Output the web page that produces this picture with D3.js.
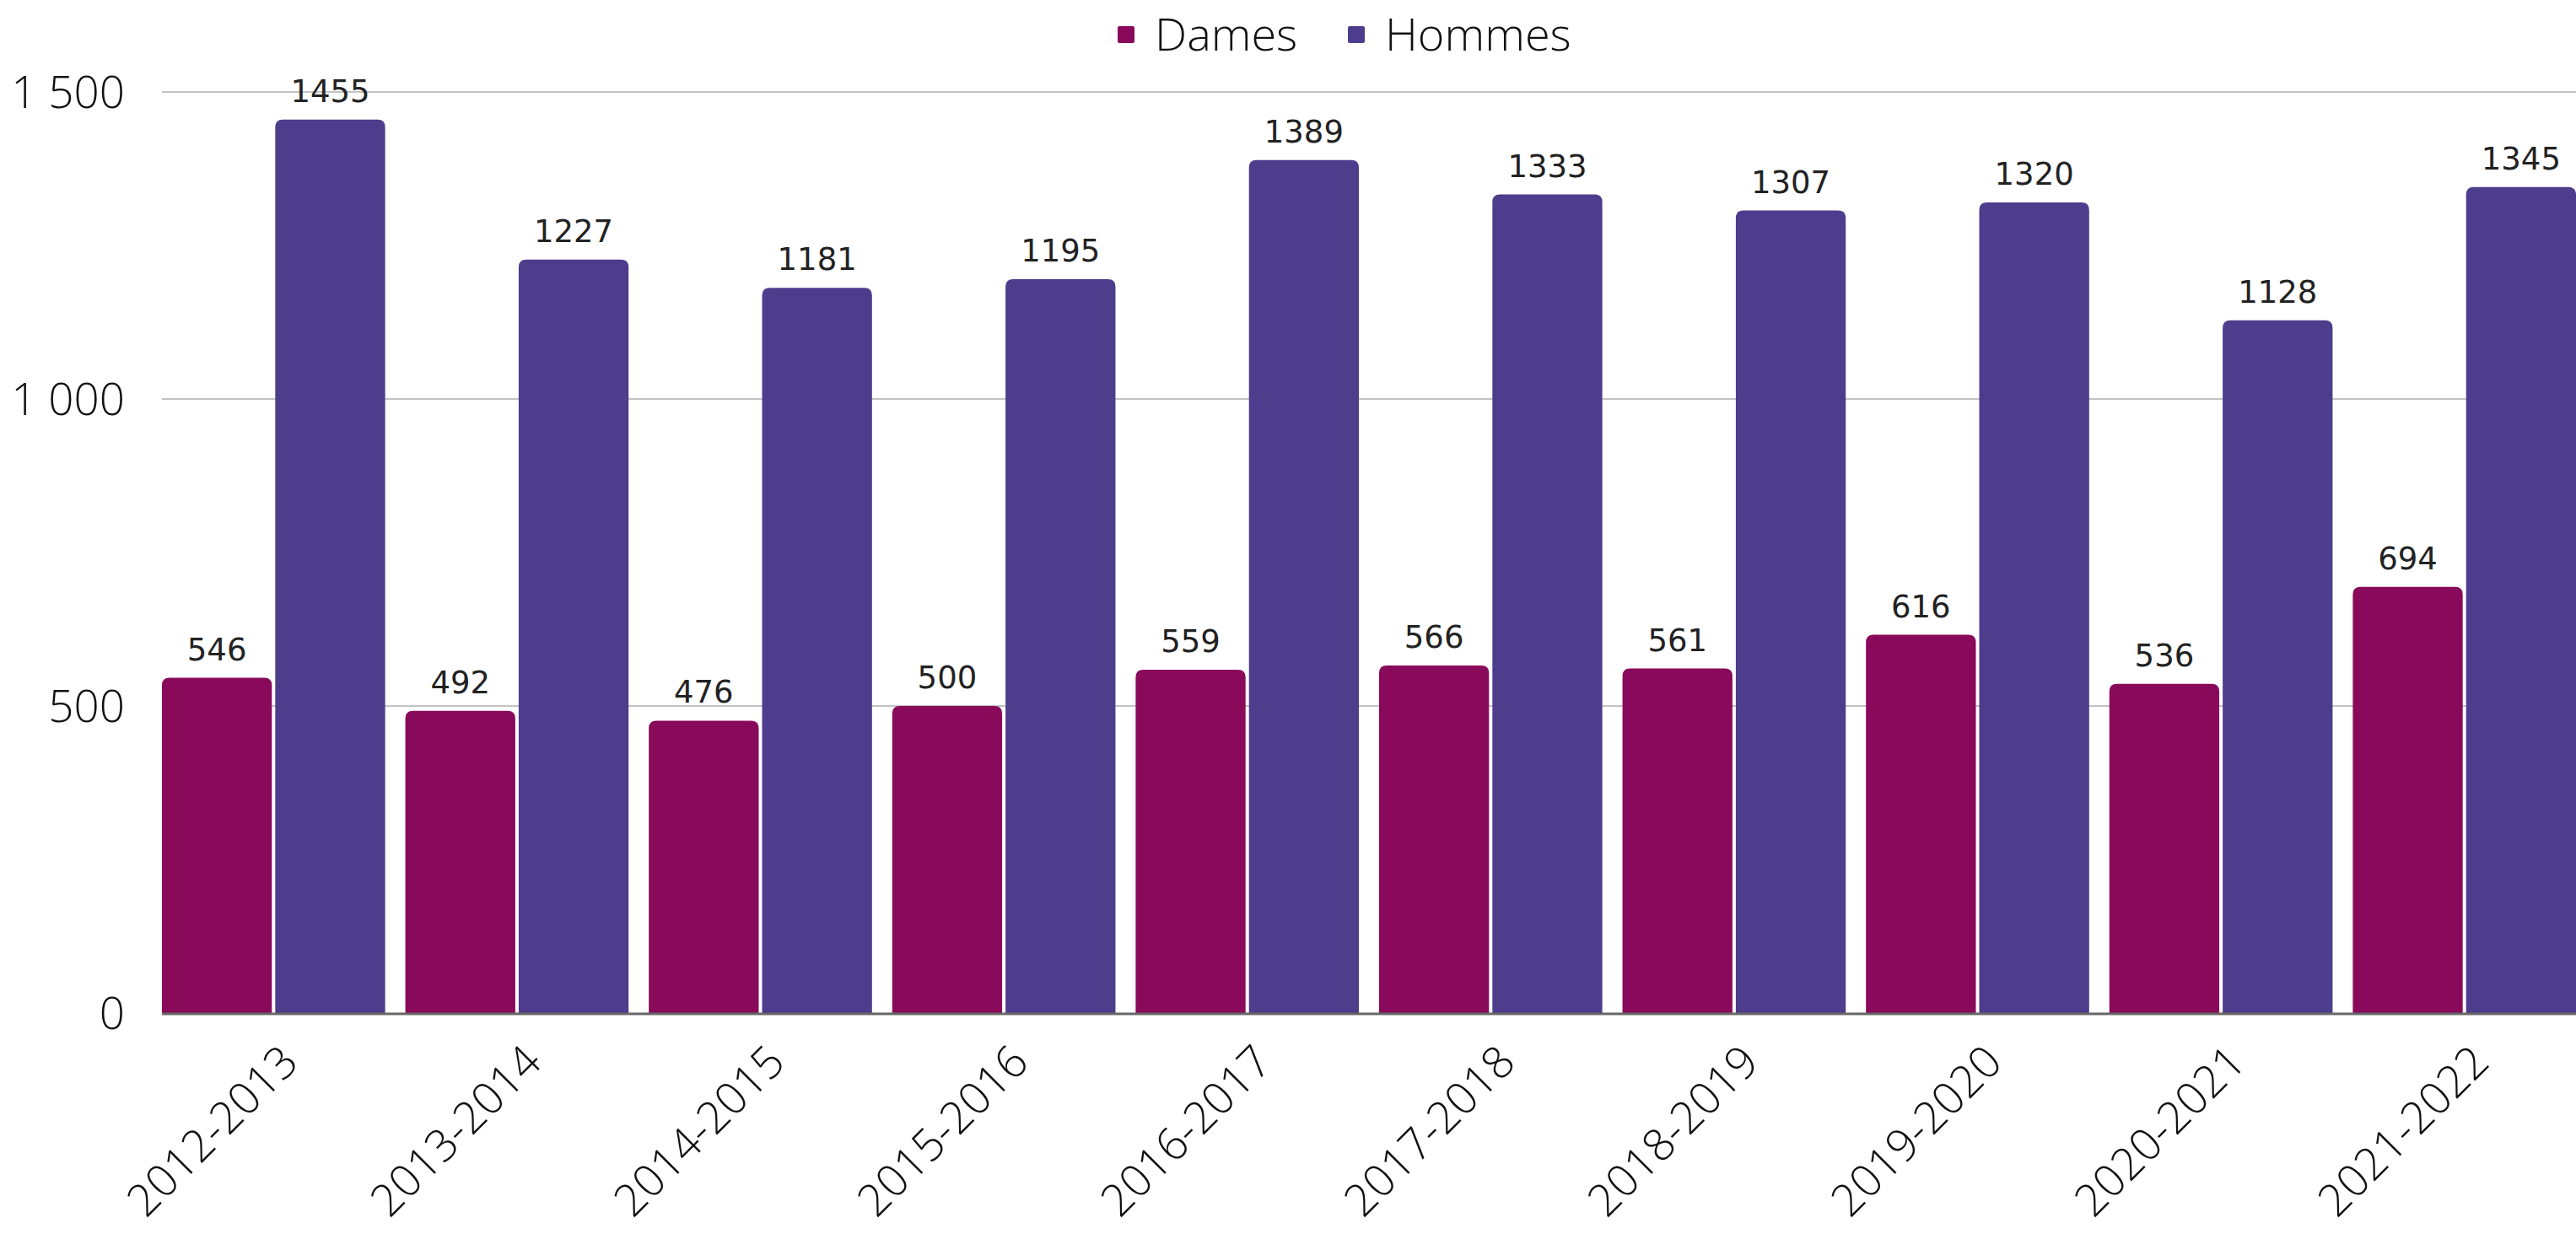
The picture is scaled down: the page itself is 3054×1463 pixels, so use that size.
<!DOCTYPE html>
<html>
<head>
<meta charset="utf-8">
<script src="https://cdn.jsdelivr.net/npm/d3@7"></script>
<style>
  body { margin: 0; background: #fff; }
</style>
</head>
<body>
<div id="chart"></div>
<script>
var seasons = ["2012-2013", "2013-2014", "2014-2015", "2015-2016", "2016-2017",
               "2017-2018", "2018-2019", "2019-2020", "2020-2021", "2021-2022"]
var dames  = [546, 492, 476, 500, 559, 566, 561, 616, 536, 694]
var hommes = [1455, 1227, 1181, 1195, 1389, 1333, 1307, 1320, 1128, 1345]
var seriesNames = ["Dames", "Hommes"]
var seriesColors = ["#890a5a", "#4e3c8c"]
var yTicks = [0, 500, 1000, 1500]

var width = 3054, height = 1463
var plotLeft = 192, plotRight = 3054
var y0 = 1201, y1 = 109

var svg = d3.select("#chart").append("svg")
    .attr("width", width)
    .attr("height", height)

var rows = seasons.map(function(s, i){ return {season: s, values: [dames[i], hommes[i]]} })

var xScale = d3.scaleBand().domain(seasons).range([180, 3066]).paddingInner(0.083).paddingOuter(0.0415)
var xSub = d3.scaleBand().domain([0, 1]).range([0, xScale.bandwidth()]).paddingInner(0.03)
var yScale = d3.scaleLinear().domain([0, 1500]).range([y0, y1])

var fr = d3.formatLocale({decimal: ",", thousands: "\u00a0", grouping: [3], currency: ["", " €"]})
var fmt = fr.format(",")

// gridlines
svg.append("g").selectAll("line")
    .data(yTicks.filter(function(t){ return t > 0 }))
    .enter().append("line")
    .attr("x1", plotLeft).attr("x2", plotRight)
    .attr("y1", function(d){ return yScale(d) })
    .attr("y2", function(d){ return yScale(d) })
    .style("stroke", "#c3c3c3")
    .style("stroke-width", 2)

// y labels
svg.append("g").selectAll("text")
    .data(yTicks)
    .enter().append("text")
    .attr("x", 148)
    .attr("y", function(d){ return yScale(d) })
    .attr("dy", "0.35em")
    .attr("text-anchor", "end")
    .style("font-family", "'Open Sans', sans-serif")
    .style("font-weight", 300)
    .style("font-size", "53px")
    .style("fill", "#111")
    .text(function(d){ return fmt(d) })

// bar with rounded top corners
function barPath(x, y, w, h, r){
    r = Math.min(r, h)
    return "M" + x + "," + (y + h) +
        "V" + (y + r) +
        "Q" + x + "," + y + " " + (x + r) + "," + y +
        "H" + (x + w - r) +
        "Q" + (x + w) + "," + y + " " + (x + w) + "," + (y + r) +
        "V" + (y + h) + "Z"
}

var groups = svg.append("g").selectAll("g")
    .data(rows)
    .enter().append("g")
    .attr("transform", function(d){ return "translate(" + xScale(d.season) + ",0)" })

groups.selectAll("path")
    .data(function(d){ return d.values })
    .enter().append("path")
    .attr("d", function(v, j){
        return barPath(xSub(j), yScale(v), xSub.bandwidth(), y0 - yScale(v), 9)
    })
    .style("fill", function(v, j){ return seriesColors[j] })

groups.selectAll("text")
    .data(function(d){ return d.values })
    .enter().append("text")
    .attr("x", function(v, j){ return xSub(j) + xSub.bandwidth() / 2 })
    .attr("y", function(v){ return yScale(v) - 21 })
    .attr("text-anchor", "middle")
    .style("font-family", "'DejaVu Sans', sans-serif")
    .style("font-size", "37px")
    .style("fill", "#222")
    .text(function(v){ return v })

// baseline
svg.append("line")
    .attr("x1", plotLeft).attr("x2", plotRight)
    .attr("y1", y0 + 1).attr("y2", y0 + 1)
    .style("stroke", "#666")
    .style("stroke-width", 3)

// x labels
svg.append("g").selectAll("text")
    .data(seasons)
    .enter().append("text")
    .attr("transform", function(d){
        return "translate(" + (xScale(d) + xScale.bandwidth() / 2 + 32) + "," + 1262 + ") rotate(-45)"
    })
    .attr("text-anchor", "end")
    .style("font-family", "'Open Sans', sans-serif")
    .style("font-weight", 300)
    .style("font-size", "53px")
    .style("fill", "#111")
    .text(function(d){ return d })

// legend
var legendX = [1325, 1598]
var legend = svg.append("g").selectAll("g")
    .data(seriesNames)
    .enter().append("g")
    .attr("transform", function(d, i){ return "translate(" + legendX[i] + ",0)" })

legend.append("rect")
    .attr("x", 0).attr("y", 31)
    .attr("width", 20).attr("height", 20)
    .attr("rx", 2)
    .style("fill", function(d, i){ return seriesColors[i] })

legend.append("text")
    .attr("x", 44).attr("y", 60)
    .style("font-family", "'Open Sans', sans-serif")
    .style("font-weight", 300)
    .style("font-size", "54px")
    .style("fill", "#111")
    .text(function(d){ return d })
</script>
</body>
</html>
